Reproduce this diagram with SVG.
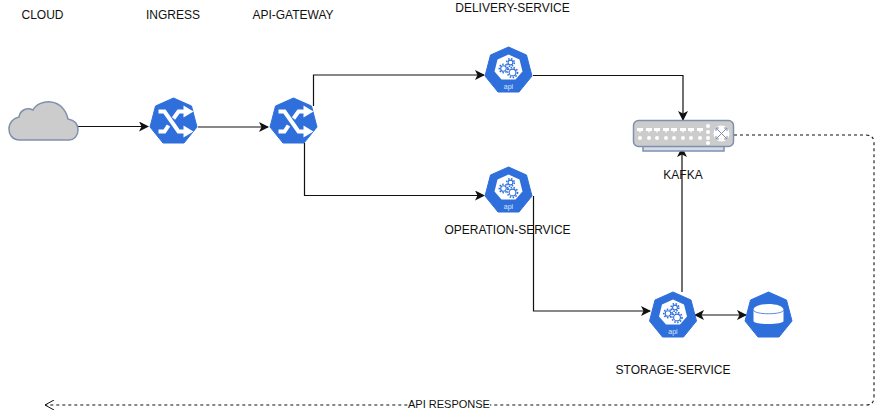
<svg xmlns="http://www.w3.org/2000/svg" xmlns:xlink="http://www.w3.org/1999/xlink" width="887" height="418" viewBox="0 0 887 418">
<style>
text{font-family:"Liberation Sans",Arial,sans-serif;font-size:12px;fill:#111;text-anchor:middle}
.c{fill:none;stroke:#111;stroke-width:1.200}
.d{fill:none;stroke:#111;stroke-width:1.100;stroke-dasharray:3 3}
.hex{fill:#2f6fdc}
.w{fill:#fff}
.ws{fill:none;stroke:#fff;stroke-width:4}
.gear{fill:#fff;stroke:#2f6fdc;stroke-width:1.100}
.teeth{fill:none;stroke:#2f6fdc;stroke-width:1.600;stroke-dasharray:1.500 1.500}
.g{fill:#ccc;stroke:#7f90ad;stroke-width:1.500}
</style>
<defs>
<marker id="a" viewBox="0 0 10 10" refX="9" refY="5" markerWidth="10" markerHeight="10" markerUnits="userSpaceOnUse" orient="auto-start-reverse"><path d="M0 0L10 5L0 10L2.500 5Z" fill="#111"/></marker>
<marker id="o" viewBox="0 0 10 10" refX="9" refY="5" markerWidth="10" markerHeight="10" markerUnits="userSpaceOnUse" orient="auto"><path d="M0 0L9 5L0 10" fill="none" stroke="#111" stroke-width="1"/></marker>
<path id="hept" class="hex" d="M0 -24.500L18 -16.500L23.500 4.500L10.500 20.500L-10.500 20.500L-23.500 4.500L-18 -16.500Z" stroke="#2f6fdc" stroke-width="1" stroke-linejoin="round"/>
<g id="shuffle">
<use xlink:href="#hept"/>
<path class="ws" d="M-15 -11H-9L5 9H11M-15 9H-9L-5 3M0 -4L5 -11H11"/>
<path class="w" d="M10 -17L20 -11L10 -5ZM10 3L20 9L10 15Z"/>
</g>
<g id="api">
<use xlink:href="#hept"/>
<path class="w" d="M0 -17L11 -12L14 0L7 8H-7L-14 0L-11 -12Z"/>
<circle class="teeth" cx="-5" cy="-3" r="4.200"/>
<circle class="gear" cx="-5" cy="-3" r="2.800"/>
<circle class="teeth" cx="2" cy="-9" r="3.800"/>
<circle class="gear" cx="2" cy="-9" r="2.400"/>
<circle class="teeth" cx="4" cy="1" r="5"/>
<circle class="gear" cx="4" cy="1" r="3.400"/>
<text x="0" y="17" style="font-size:7px;fill:#dbe6fa">api</text>
</g>
</defs>

<g id="connectors">
<path class="c" d="M78 126.500H148" marker-end="url(#a)"/>
<path class="c" d="M198 127H268" marker-end="url(#a)"/>
<path class="c" d="M313.500 106V75H484" marker-end="url(#a)"/>
<path class="c" d="M304.500 143V195.500H484" marker-end="url(#a)"/>
<path class="c" d="M533 75.500H683V120" marker-end="url(#a)"/>
<path class="c" d="M533.500 196V311H650" marker-end="url(#a)"/>
<path class="c" d="M682 292V148" marker-end="url(#a)"/>
<path class="c" d="M695 315H746" marker-start="url(#a)" marker-end="url(#a)"/>
<path class="d" d="M734 135H866Q874 135 874 143V397Q874 405 866 405H45" marker-end="url(#o)"/>
<rect x="408" y="398" width="82" height="14" fill="#fff"/>
<text x="449" y="408" style="font-size:11px">API RESPONSE</text>
</g>

<g id="cloud">
<path class="g" d="M20 140C11 140 9 133 9 129C9 122 14 118 19 117C20 110 27 107 33 110C36 104 44 101 51 102C60 103 66 110 68 119C74 120 78 124 78 130C78 136 74 140 69 140Z"/>
<text x="42.500" y="19">CLOUD</text>
</g>
<g id="ingress">
<use xlink:href="#shuffle" x="173.500" y="122.500"/>
<text x="173" y="19">INGRESS</text>
</g>
<g id="api-gateway">
<use xlink:href="#shuffle" x="293.500" y="122.500"/>
<text x="293" y="19">API-GATEWAY</text>
</g>
<g id="delivery-service">
<use xlink:href="#api" x="508.500" y="71.500"/>
<text x="512.500" y="12">DELIVERY-SERVICE</text>
</g>
<g id="operation-service">
<use xlink:href="#api" x="508.500" y="191.500"/>
<text x="507.500" y="234">OPERATION-SERVICE</text>
</g>
<g id="kafka">
<rect class="g" x="643" y="146" width="81" height="5" style="fill:#d5dbe8"/>
<rect class="g" x="633.500" y="120.500" width="100" height="26" rx="5"/>
<path fill="#fff" d="M637 128h6v3h-2l-1 2l-1 -2h-2ZM646 128h6v3h-2l-1 2l-1 -2h-2ZM654 128h6v3h-2l-1 2l-1 -2h-2ZM663 128h6v3h-2l-1 2l-1 -2h-2ZM671 128h6v3h-2l-1 2l-1 -2h-2ZM680 128h6v3h-2l-1 2l-1 -2h-2ZM688 128h6v3h-2l-1 2l-1 -2h-2ZM697 128h6v3h-2l-1 2l-1 -2h-2Z"/>
<g fill="#fff">
<circle cx="640" cy="138" r="2"/><circle cx="649" cy="138" r="2"/><circle cx="657" cy="138" r="2"/><circle cx="666" cy="138" r="2"/><circle cx="674" cy="138" r="2"/><circle cx="683" cy="138" r="2"/><circle cx="691" cy="138" r="2"/><circle cx="700" cy="138" r="2"/>
<circle cx="708" cy="126" r="2"/><circle cx="708" cy="132" r="2"/><circle cx="708" cy="138" r="2"/><circle cx="708" cy="143" r="2"/>
<circle cx="721.500" cy="133.500" r="8"/>
</g>
<path d="M716 128L727 139M727 128L716 139M716 128h3M716 128v3M727 128h-3M727 128v3M716 139h3M716 139v-3M727 139h-3M727 139v-3" fill="none" stroke="#7f90ad" stroke-width="1"/>
<text x="683" y="179">KAFKA</text>
</g>
<g id="storage-service">
<use xlink:href="#api" x="673" y="316.500"/>
<text x="673" y="374">STORAGE-SERVICE</text>
</g>
<g id="database">
<use xlink:href="#hept" x="768.500" y="316.500"/>
<path class="w" d="M753.500 310C753.500 302 783.500 302 783.500 310V321C783.500 325 753.500 325 753.500 321Z"/>
<path d="M753.500 310C753.500 315 783.500 315 783.500 310" fill="none" stroke="#2f6fdc" stroke-width="0.800"/>
</g>
</svg>
